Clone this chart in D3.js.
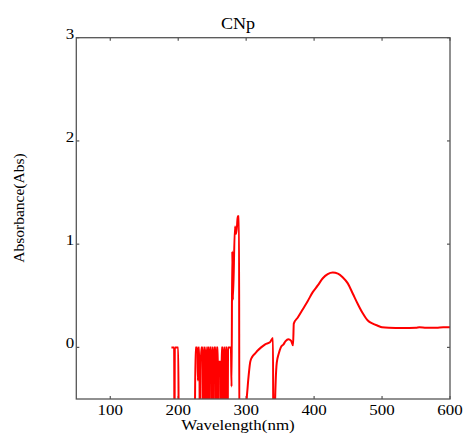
<!DOCTYPE html>
<html>
<head>
<meta charset="utf-8">
<script src="https://cdn.jsdelivr.net/npm/d3@7"></script>
<style>
  body { margin: 0; background: #fff; }
  text { font-family: "Liberation Serif", "Times New Roman", serif; fill: #000; }
</style>
</head>
<body>
<div id="chart"></div>
<script>
// spectrum; -1 means off the bottom of the axes
const wavelength = [
  190, 194, 194.5, 195, 200, 201, 224,
  225.5, 228, 229, 229.8, 231, 232, 233, 234, 236, 236.8, 237.5, 239, 239.7,
  240.5, 241.5, 242.2, 243, 245, 245.6, 246.3, 248.7, 249.4, 250.2, 251.2, 251.9,
  252.6, 255, 255.7, 256.4, 258.4, 259.1, 259.8, 262.4, 263.1, 263.8, 265.8, 266.5,
  267.2, 268.4, 269.1, 269.8, 272, 272.7, 273.4, 277.5,
  278.5, 279.5, 280.5, 283.5, 285, 286.5, 287.5, 289.5, 290, 300,
  300.5, 302, 304, 306, 309, 313, 317, 322, 328, 335, 339.5, 340, 341.5,
  342.5, 343.5, 345, 348, 351, 355, 358, 362, 366, 369,
  370.1, 376, 383.4, 390.7, 398, 405.4, 412.8, 420, 427.5, 435, 442, 449.6,
  457, 464.3, 471.6, 479, 486.3, 493.7, 500, 510, 530, 550, 555, 565, 580, 590, 600
];
const absorbance = [
  0, 0, -1, 0, 0, -1, -1,
  0, 0, -0.32, 0, 0, -1, -0.22, 0, 0, -1, 0, 0, -1,
  0, 0, -1, 0, 0, -1, 0, 0, -1, 0, 0, -1,
  0, 0, -1, 0, 0, -1, -0.14, -0.14, -1, 0, 0, -1,
  0, 0, -1, 0, 0, -1, 0, 0,
  -0.38, 0.93, 0.46, 1.17, 1.1, 1.17, 1.27, 1.27, -1, -1,
  -0.55, -0.4, -0.25, -0.14, -0.09, -0.06, -0.03, 0.0, 0.03, 0.05, 0.09, -1, -1,
  -0.55, -0.32, -0.15, -0.06, 0.0, 0.03, 0.06, 0.08, 0.065, 0.02,
  0.23, 0.29, 0.37, 0.45, 0.535, 0.6, 0.67, 0.71, 0.725, 0.715, 0.68, 0.62,
  0.52, 0.42, 0.33, 0.26, 0.23, 0.21, 0.195, 0.19, 0.188, 0.19, 0.195, 0.19, 0.19, 0.195, 0.195
];
const xTicks = [100, 200, 300, 400, 500, 600];
const yTicks = [0, 1, 2, 3];

const width = 463, height = 434;
const plotLeft = 76.3, plotRight = 450, plotTop = 37.7, plotBottom = 399;
// the reference text looks a bit stretched sideways
const stretch = 1.13;

const x = d3.scaleLinear([50, 600], [plotLeft, plotRight]);
const y = d3.scaleLinear([-0.5, 3], [plotBottom, plotTop]);

const svg = d3.select("#chart").append("svg")
  .attr("width", width)
  .attr("height", height);

svg.append("clipPath").attr("id", "plot")
  .append("rect")
  .attr("x", plotLeft).attr("y", plotTop)
  .attr("width", plotRight - plotLeft).attr("height", plotBottom - plotTop);

const axisColor = "#555";

// inward ticks on all four sides
const tickLen = 3;
const tk = svg.append("g").attr("stroke", axisColor).attr("stroke-width", 1.2);
xTicks.forEach(v => {
  tk.append("line").attr("x1", x(v)).attr("x2", x(v)).attr("y1", plotBottom).attr("y2", plotBottom - tickLen);
  tk.append("line").attr("x1", x(v)).attr("x2", x(v)).attr("y1", plotTop).attr("y2", plotTop + tickLen);
});
yTicks.forEach(v => {
  tk.append("line").attr("x1", plotLeft).attr("x2", plotLeft + tickLen).attr("y1", y(v)).attr("y2", y(v));
  tk.append("line").attr("x1", plotRight).attr("x2", plotRight - tickLen).attr("y1", y(v)).attr("y2", y(v));
});

// the spectrum
const line = d3.line()
  .x((d, i) => x(wavelength[i]))
  .y(d => y(d))
  .curve(d3.curveMonotoneX);

svg.append("path")
  .datum(absorbance)
  .attr("clip-path", "url(#plot)")
  .attr("fill", "none")
  .attr("stroke", "#ff0000")
  .attr("stroke-width", 2)
  .attr("d", line);

// box
svg.append("rect")
  .attr("x", plotLeft).attr("y", plotTop)
  .attr("width", plotRight - plotLeft).attr("height", plotBottom - plotTop)
  .attr("fill", "none")
  .attr("stroke", axisColor)
  .attr("stroke-width", 1.3);

function label(tx, ty, str, size, anchor, sx) {
  return svg.append("text")
    .attr("transform", `translate(${tx},${ty}) scale(${sx || stretch},1)`)
    .attr("text-anchor", anchor)
    .attr("font-size", size)
    .text(str);
}

// tick labels
xTicks.forEach(v => label(x(v), plotBottom + 16, v, 15, "middle"));
yTicks.forEach(v => label(plotLeft - 2, y(v) + 1, v, 15, "end"));

// titles
label(238, 29, "CNp", 16, "middle");
label(238, 430, "Wavelength(nm)", 15, "middle");
svg.append("text")
  .attr("transform", "translate(24,208) rotate(-90)")
  .attr("text-anchor", "middle")
  .attr("font-size", 15.5)
  .text("Absorbance(Abs)");
</script>
</body>
</html>
